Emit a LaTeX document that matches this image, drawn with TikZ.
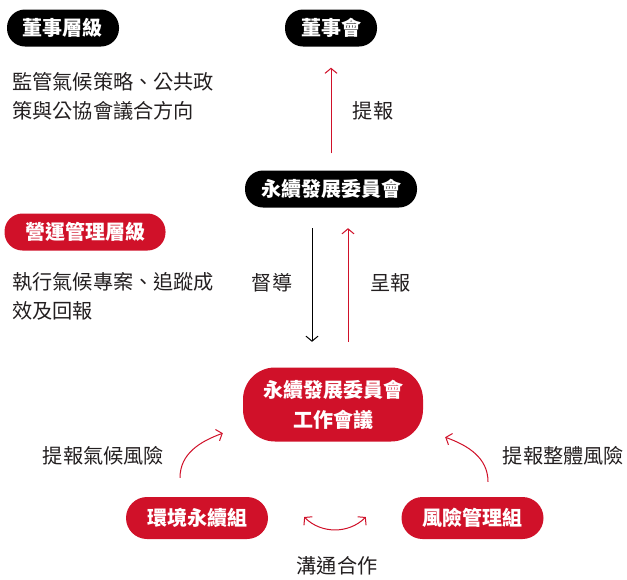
\documentclass[tikz,border=0pt]{standalone}
\usepackage{fontspec}
\setmainfont{Noto Sans CJK TC}
\usetikzlibrary{arrows.meta,positioning}
\definecolor{cred}{RGB}{208,17,41}
\definecolor{ctext}{RGB}{35,31,32}

\begin{document}
\begin{tikzpicture}[x=1pt,y=-1pt, every node/.style={font=\fontsize{20.2}{29}\selectfont, text=ctext}]

    \tikzstyle{pill}=[rectangle, rounded corners=18pt, minimum height=37pt, inner xsep=16pt, inner ysep=0pt, text=white, font=\fontsize{20}{30}\selectfont\bfseries]
    \tikzstyle{bpill}=[pill, fill=black]
    \tikzstyle{rpill}=[pill, fill=cred]
    \tikzstyle{gpill}=[rpill, minimum width=142pt, minimum height=42pt, rounded corners=21pt]
    \tikzstyle{note}=[anchor=west, align=left, inner sep=0pt]
    \tikzstyle{lbl}=[inner sep=0pt]
    \tikzstyle{arr}=[line width=1pt, -{Straight Barb[length=5pt,width=12pt]}]
    \tikzstyle{arrs}=[line width=1pt, {Straight Barb[length=5pt,width=12pt]}-{Straight Barb[length=5pt,width=12pt]}]

    \useasboundingbox (0,0) rectangle (627,579);

    % levels
    \node[bpill] (lvboard) at (63,28) {董事層級};
    \node[note] (noteboard) at (12,96) {監管氣候策略、公共政\\策與公協會議合方向};
    \node[rpill, minimum width=161pt] (lvops) at (85,232) {營運管理層級};
    \node[note] (noteops) at (12,296) {執行氣候專案、追蹤成\\效及回報};

    % bodies
    \node[bpill] (board) at (331,28) {董事會};
    \node[bpill] (cmt) at (331,189) {永續發展委員會};
    \node[rpill, align=center, minimum width=180pt, minimum height=74pt, rounded corners=32pt] (work) at (333,404.5) {永續發展委員會\\工作會議};
    \node[gpill] (env) at (197,518) {環境永續組};
    \node[gpill] (risk) at (472.5,518) {風險管理組};

    % arrows
    \draw[arr, cred, shorten <=17pt, shorten >=21pt] (cmt.north) -- (board.south);
    \node[lbl] (lreport) at (373,111) {提報};
    \draw[arr, shorten <=20.5pt, shorten >=25.5pt] ([xshift=-19pt]cmt.south) -- ([xshift=-19pt]cmt.south |- work.north);
    \node[lbl] (lguide) at (272,283) {督導};
    \draw[arr, cred, shorten <=25.5pt, shorten >=20.5pt] ([xshift=17pt]cmt.south |- work.north) -- ([xshift=17pt]cmt.south);
    \node[lbl] (lsubmit) at (390.5,283) {呈報};

    \coordinate (envout) at ([xshift=-17pt,yshift=19pt]env.north);
    \coordinate (workinl) at ([xshift=-20pt,yshift=8.5pt]work.south west);
    \coordinate (riskout) at ([xshift=15.5pt,yshift=15pt]risk.north);
    \coordinate (workinr) at ([xshift=22pt,yshift=4.5pt]work.south east);
    \draw[arr, cred] (envout) to[out=90, in=200] (workinl);
    \draw[arr, cred] (riskout) to[out=90, in=-20] (workinr);
    \node[lbl] (lclimate) at (103.5,456) {提報氣候風險};
    \node[lbl] (loverall) at (563.5,456) {提報整體風險};

    \coordinate (coopl) at ([xshift=36pt,yshift=1pt]env.east);
    \coordinate (coopr) at ([xshift=-35.5pt,yshift=1pt]risk.west);
    \draw[arrs, cred] (coopl) to[out=-45, in=-135] (coopr);
    \node[lbl] (lcoop) at (337,566) {溝通合作};

\end{tikzpicture}
\end{document}
